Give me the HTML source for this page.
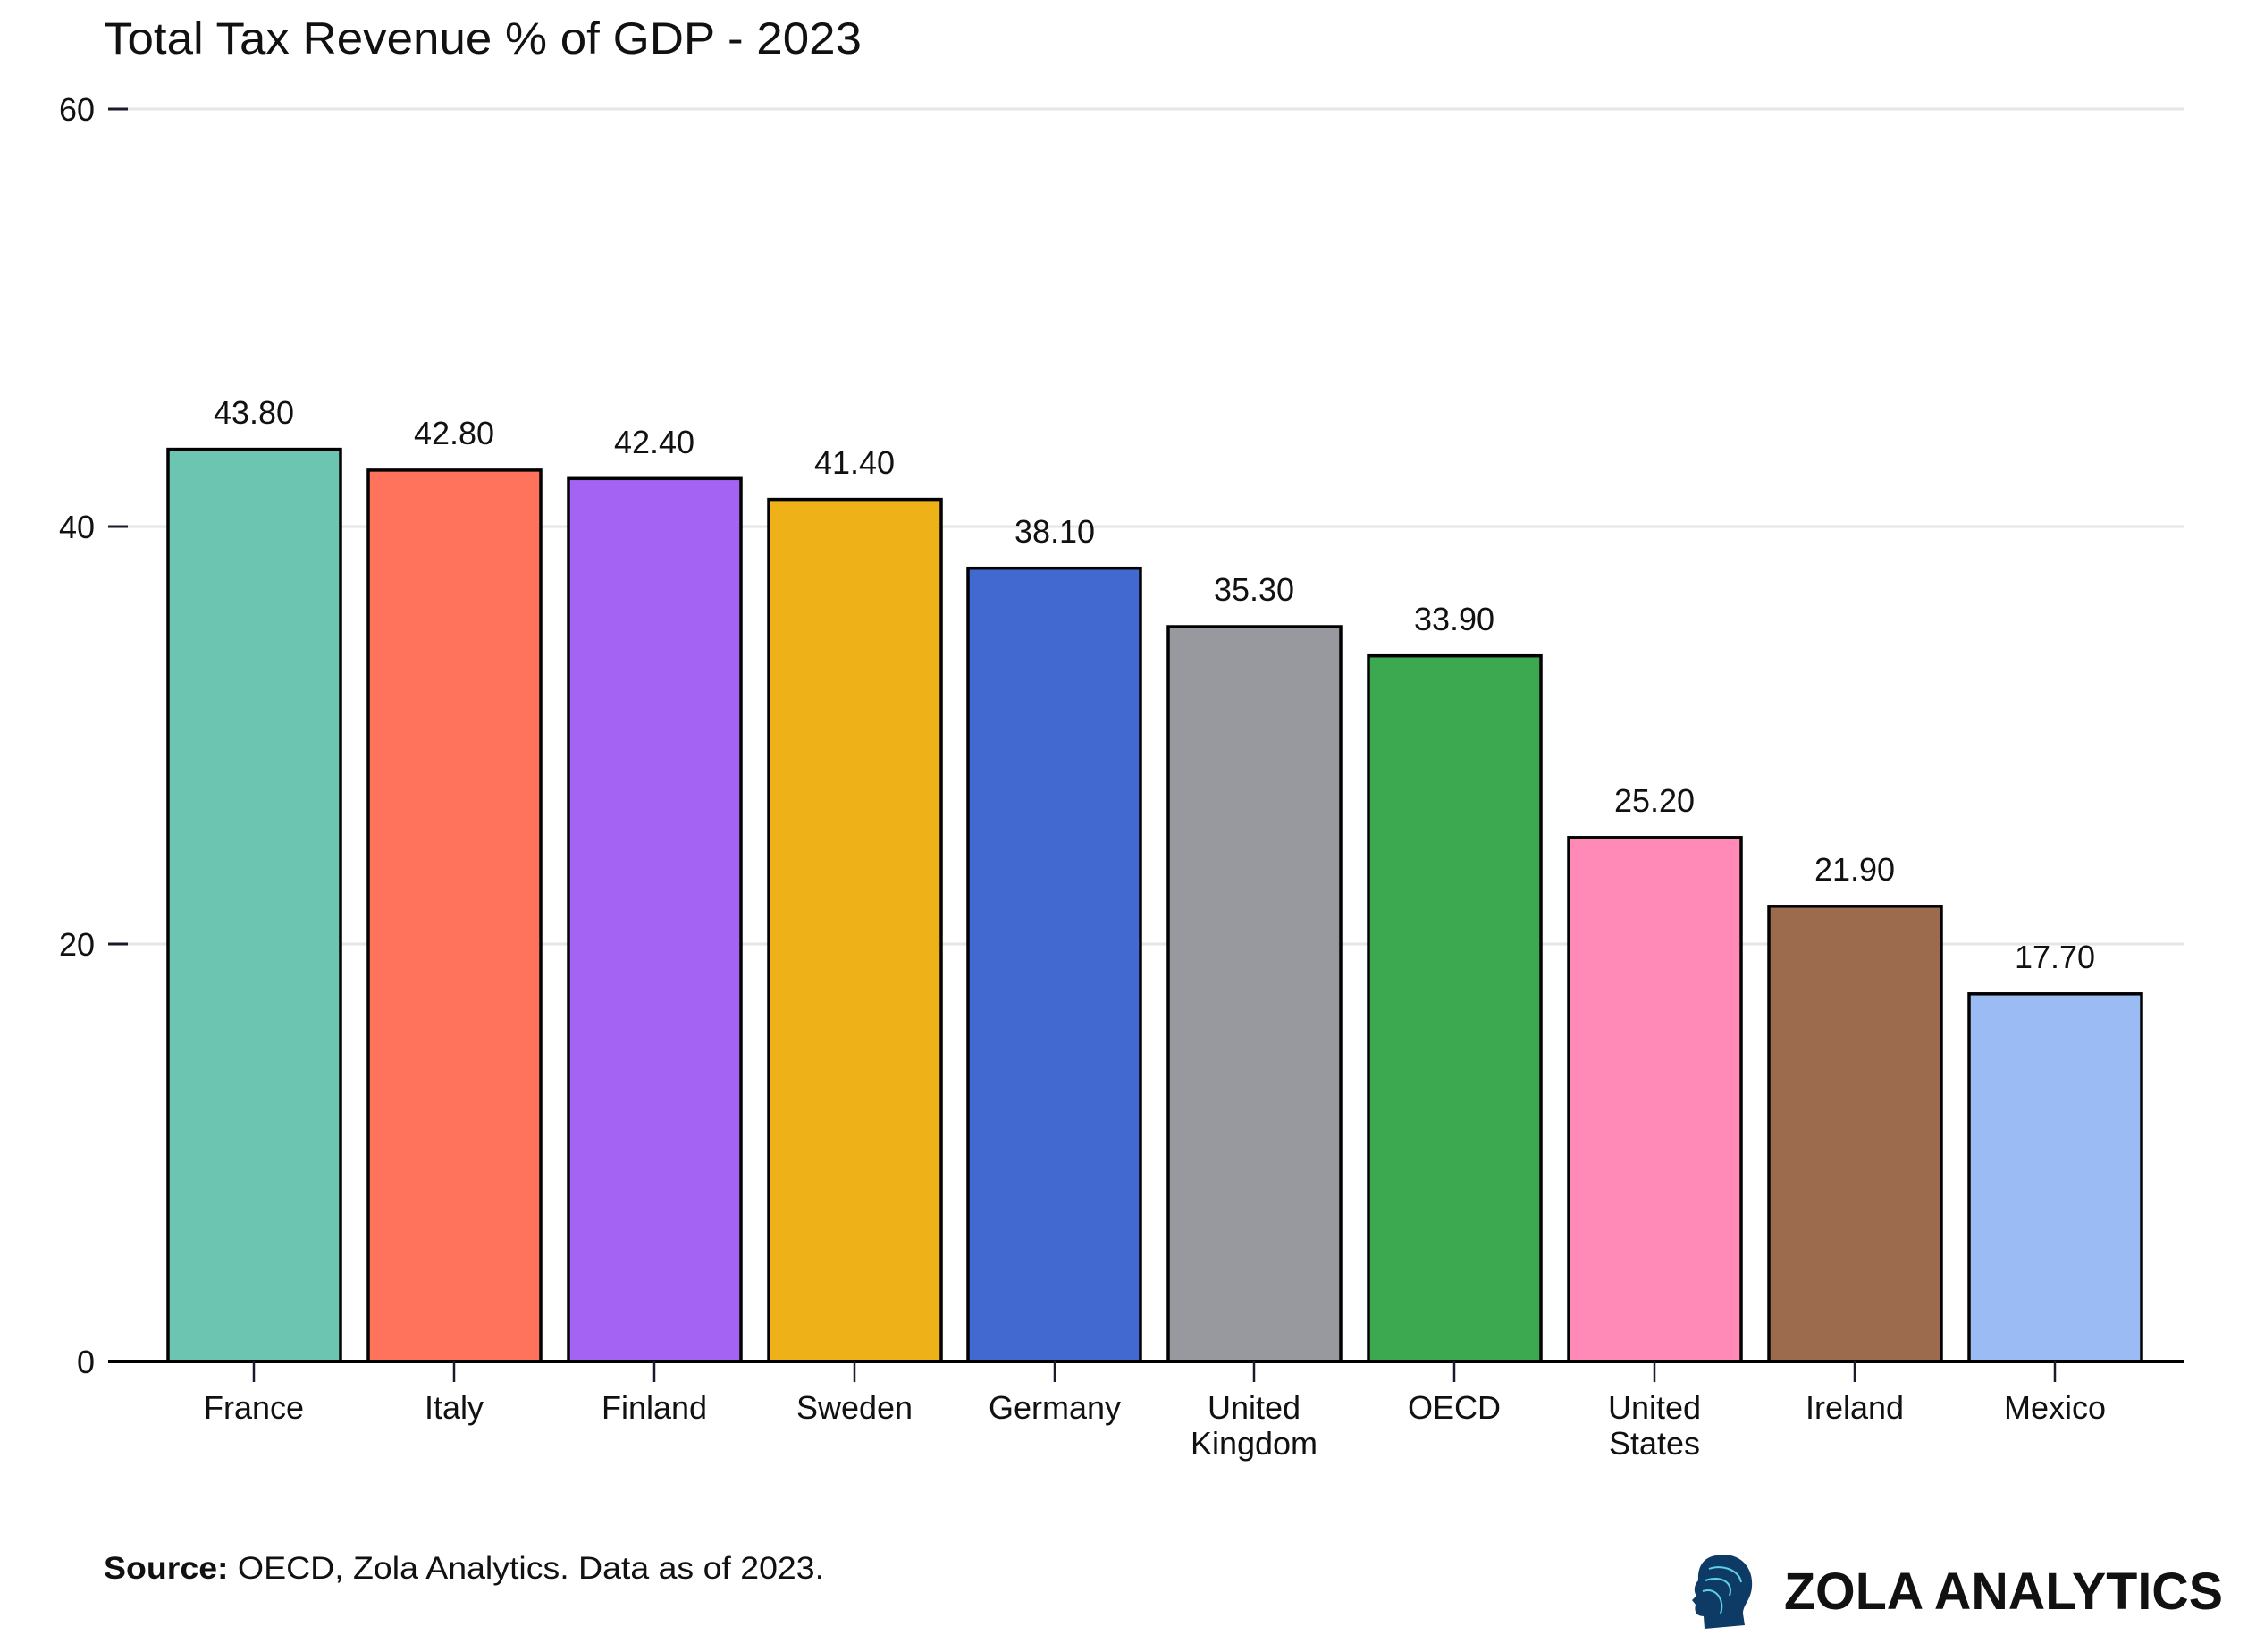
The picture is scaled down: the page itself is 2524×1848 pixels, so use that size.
<!DOCTYPE html>
<html><head><meta charset="utf-8"><style>
html,body{margin:0;padding:0;background:#fff;}
svg{display:block;font-family:"Liberation Sans",sans-serif;}
</style></head><body>
<svg width="2524" height="1848" viewBox="0 0 2524 1848" xmlns="http://www.w3.org/2000/svg">
<text x="116" y="60" font-size="50" fill="#111" textLength="848" lengthAdjust="spacingAndGlyphs">Total Tax Revenue % of GDP - 2023</text>
<g stroke="#e6e6e6" stroke-width="3">
<line x1="143" y1="122" x2="2443" y2="122"/>
<line x1="143" y1="589" x2="2443" y2="589"/>
<line x1="143" y1="1056" x2="2443" y2="1056"/>
</g>
<g stroke="#1a1a2a" stroke-width="3">
<line x1="121" y1="122" x2="143" y2="122"/>
<line x1="121" y1="589" x2="143" y2="589"/>
<line x1="121" y1="1056" x2="143" y2="1056"/>
<line x1="121" y1="1523" x2="143" y2="1523"/>
</g>
<g font-size="36" fill="#111" text-anchor="end">
<text x="106" y="135">60</text>
<text x="106" y="602">40</text>
<text x="106" y="1069">20</text>
<text x="106" y="1536">0</text>
</g>
<g stroke="#000" stroke-width="3.5">
<rect x="188" y="502.6" width="193" height="1020.4" fill="#6cc5b0"/>
<rect x="412" y="525.9" width="193" height="997.1" fill="#ff725c"/>
<rect x="636" y="535.3" width="193" height="987.7" fill="#a463f2"/>
<rect x="860" y="558.6" width="193" height="964.4" fill="#efb118"/>
<rect x="1083" y="635.7" width="193" height="887.3" fill="#4269d0"/>
<rect x="1307" y="701" width="193" height="822" fill="#97999f"/>
<rect x="1531" y="733.7" width="193" height="789.3" fill="#3ca951"/>
<rect x="1755" y="936.8" width="193" height="586.2" fill="#ff8ab7"/>
<rect x="1979" y="1013.8" width="193" height="509.2" fill="#9c6b4e"/>
<rect x="2203" y="1111.8" width="193" height="411.2" fill="#9bbbf4"/>
</g>
<line x1="121" y1="1523" x2="2443" y2="1523" stroke="#000" stroke-width="4"/>
<g stroke="#1a1a2a" stroke-width="2.5">
<line x1="284" y1="1523" x2="284" y2="1546"/><line x1="508" y1="1523" x2="508" y2="1546"/>
<line x1="732" y1="1523" x2="732" y2="1546"/><line x1="956" y1="1523" x2="956" y2="1546"/>
<line x1="1180" y1="1523" x2="1180" y2="1546"/><line x1="1403" y1="1523" x2="1403" y2="1546"/>
<line x1="1627" y1="1523" x2="1627" y2="1546"/><line x1="1851" y1="1523" x2="1851" y2="1546"/>
<line x1="2075" y1="1523" x2="2075" y2="1546"/><line x1="2299" y1="1523" x2="2299" y2="1546"/>
</g>
<g font-size="36" fill="#111" text-anchor="middle">
<text x="284" y="474">43.80</text>
<text x="508" y="497">42.80</text>
<text x="732" y="507">42.40</text>
<text x="956" y="530">41.40</text>
<text x="1180" y="607">38.10</text>
<text x="1403" y="672">35.30</text>
<text x="1627" y="705">33.90</text>
<text x="1851" y="908">25.20</text>
<text x="2075" y="985">21.90</text>
<text x="2299" y="1083">17.70</text>
</g>
<g font-size="36" fill="#111" text-anchor="middle">
<text x="284" y="1587">France</text>
<text x="508" y="1587">Italy</text>
<text x="732" y="1587">Finland</text>
<text x="956" y="1587">Sweden</text>
<text x="1180" y="1587">Germany</text>
<text x="1403" y="1587">United</text>
<text x="1403" y="1627">Kingdom</text>
<text x="1627" y="1587">OECD</text>
<text x="1851" y="1587">United</text>
<text x="1851" y="1627">States</text>
<text x="2075" y="1587">Ireland</text>
<text x="2299" y="1587">Mexico</text>
</g>
<text x="116" y="1766" font-size="35" fill="#111" textLength="806" lengthAdjust="spacingAndGlyphs"><tspan font-weight="bold">Source:</tspan> OECD, Zola Analytics. Data as of 2023.</text>
<g>
<path d="M1920 1740 C1945 1735 1962 1752 1960 1775 C1959 1790 1950 1795 1950 1805 L1952 1818 L1907 1822 L1906 1808 C1898 1808 1895 1803 1897 1795 L1893 1790 L1898 1785 C1894 1780 1896 1772 1900 1768 C1899 1752 1906 1742 1920 1740 Z" fill="#0d3b66"/>
<g stroke="#5fd0e8" stroke-width="2" fill="none">
<path d="M1912 1755 C1925 1750 1945 1755 1948 1770"/>
<path d="M1908 1768 C1925 1762 1940 1770 1935 1785"/>
<path d="M1905 1780 C1920 1775 1930 1790 1925 1805"/>
</g>
</g>
<text x="1996" y="1800" font-size="58" font-weight="bold" fill="#111" textLength="491" lengthAdjust="spacingAndGlyphs">ZOLA ANALYTICS</text>
</svg>
</body></html>
